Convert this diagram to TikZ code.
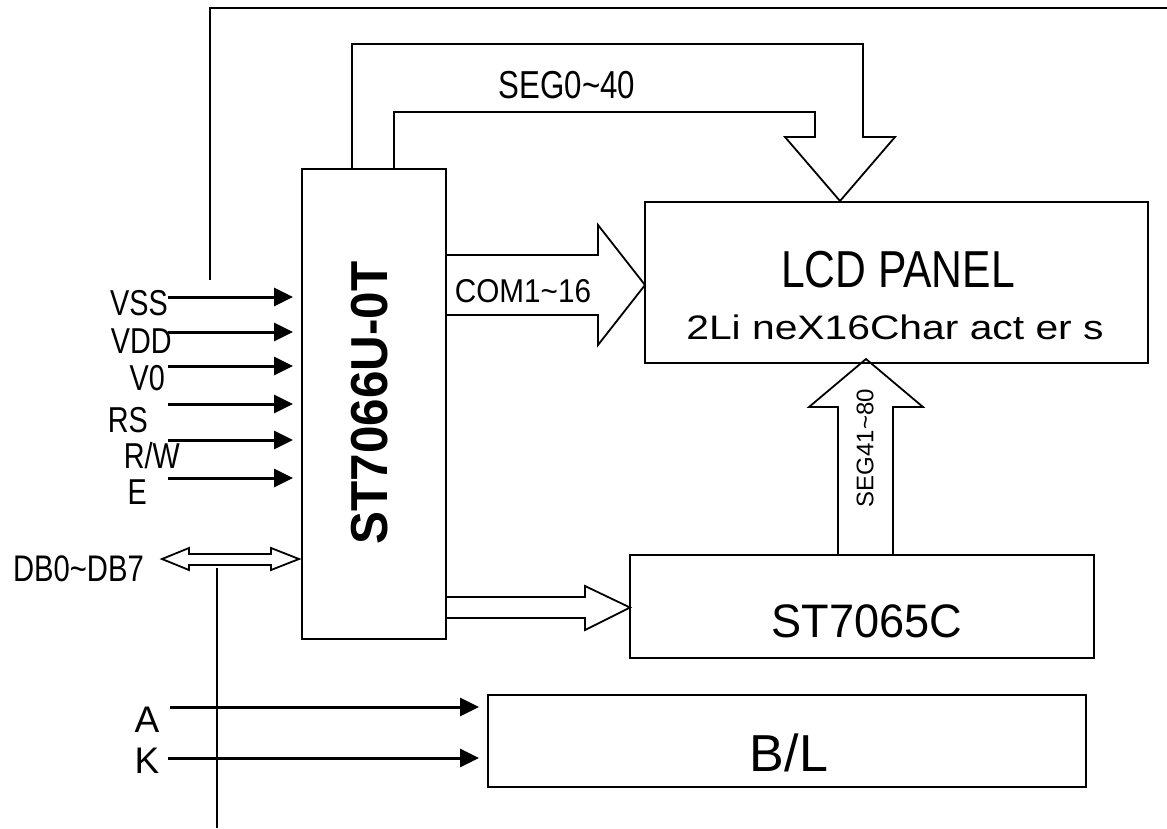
\documentclass[tikz,border=0pt]{standalone}
\usepackage{fontspec}
\setmainfont{Liberation Sans}
\usetikzlibrary{arrows.meta}
\usetikzlibrary{calc}

\newcommand{\narrow}[2]{\scalebox{#1}[1]{#2}}
\newcommand{\fs}[1]{\fontsize{#1}{#1}\selectfont}

\tikzset{
  box/.style={draw, line width=1.8pt, inner sep=0pt},
  hollow/.style={draw, line width=1.8pt, line join=miter},
  pinline/.style={line width=3pt, -{Triangle[length=19pt, width=18pt]}, shorten >=8pt},
  txt/.style={inner sep=0pt, anchor=base},
  pinlbl/.style={inner sep=0pt, anchor=base east, font=\fs{36}},
}

\begin{document}
\begin{tikzpicture}[x=1pt, y=-1pt]
  \useasboundingbox (0,0) rectangle (1167,828);

  % blocks
  \node[box, minimum width=144pt, minimum height=470pt] (st7066) at (374,404) {};
  \node[box, minimum width=503pt, minimum height=161pt] (lcd) at (896.5,282.5) {};
  \node[box, minimum width=464pt, minimum height=103pt] (st7065) at (862,606.5) {};
  \node[box, minimum width=598pt, minimum height=92pt] (bl) at (787,741) {};

  % block texts
  \node[txt, rotate=90, anchor=center, font=\fs{52}\bfseries] (st7066txt) at (370,403) {\narrow{0.95}{ST7066U-0T}};
  \node[txt, font=\fs{52}] (lcdtxt) at (898,287) {\narrow{0.82}{LCD PANEL}};
  \node[txt, font=\fs{34}] (lcdsub) at (895,339) {\narrow{1.2}{2Li neX16Char act er s}};
  \node[txt, font=\fs{47}] (st7065txt) at (867,637) {\narrow{0.96}{ST7065C}};
  \node[txt, font=\fs{52}] (bltxt) at (789,771) {B/L};

  % bus arrows
  \draw[hollow] (352,169) -- (352,44) -- (863,44) -- (863,137) -- (895,137) -- (840,201)
    -- (785,137) -- (815,137) -- (815,112) -- (394,112) -- (394,169);
  \node[txt, font=\fs{39}] (segtop) at (567,98) {\narrow{0.8}{SEG0\textasciitilde40}};

  \draw[hollow] (447,255) -- (598,255) -- (598,225) -- (645,285) -- (598,345) -- (598,315) -- (447,315);
  \node[txt, font=\fs{33}] (comtxt) at (523,302) {\narrow{0.9}{COM1\textasciitilde16}};

  \draw[hollow] (838,555) -- (838,407) -- (809,407) -- (866,359) -- (923,407) -- (893,407) -- (893,555);
  \node[txt, rotate=90, anchor=center, font=\fs{24}] (segbot) at (865,448) {SEG41\textasciitilde80};

  \draw[hollow] (447,597) -- (585,597) -- (585,586) -- (630,607.5) -- (585,630) -- (585,618) -- (447,618);

  % pins
  \foreach \name/\lbl/\y/\ly/\lx in {vss/VSS/297/315/168, vdd/VDD/332/353/172, vzero/V0/366/390/165,
      rs/RS/404/432/148, rw/{R/W}/440/468/180, en/E/478/504/147} {
    \node[pinlbl] (\name) at (\lx,\ly) {\narrow{0.8}{\lbl}};
    \coordinate (\name in) at (168,\y);
    \draw[pinline] (\name in) -- (\name in -| st7066.west);
  }

  \node[pinlbl, font=\fs{37}] (db) at (144,581) {\narrow{0.79}{DB0\textasciitilde DB7}};
  \draw[hollow] (162,559) -- (189,548) -- (189,554) -- (271,554) -- (271,548) -- (299,559)
    -- (271,570) -- (271,565) -- (189,565) -- (189,570) -- cycle;

  \node[txt, font=\fs{37}] (anode) at (147,732) {A};
  \node[txt, font=\fs{37}] (knode) at (147,773) {K};
  \coordinate (ain) at (170,707);
  \coordinate (kin) at (168,758);
  \draw[pinline] (ain) -- (ain -| bl.west);
  \draw[pinline] (kin) -- (kin -| bl.west);

  % frame lines
  \draw[line width=1.8pt] (210,280) -- (210,8) -- (1167,8);
  \draw[line width=1.8pt] (217,568) -- (217,828);
\end{tikzpicture}
\end{document}
